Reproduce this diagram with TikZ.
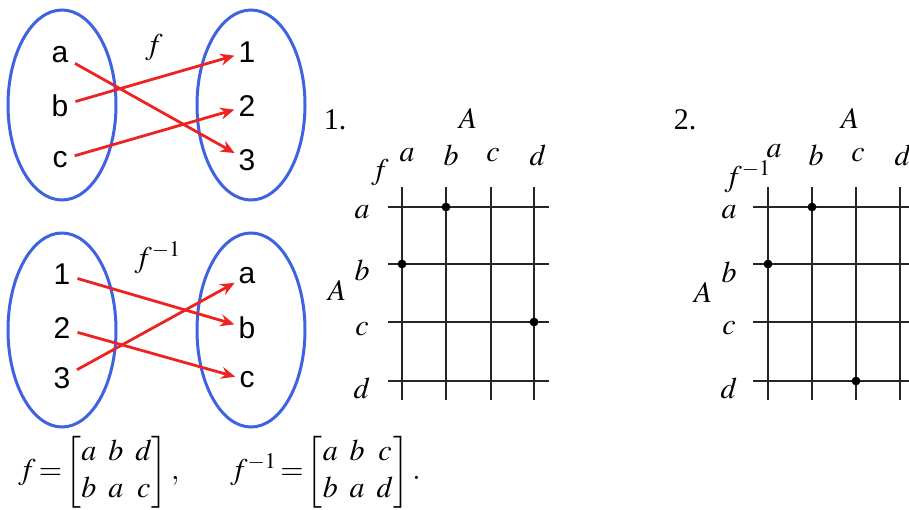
\documentclass[tikz,border=0pt]{standalone}
\usepackage{amsmath}
\usepackage{mathptmx}
\usepackage{fontspec}
\setmainfont{Liberation Serif}
\newfontfamily\arialfont{Liberation Sans}
\usetikzlibrary{arrows.meta,shapes.geometric}
\definecolor{setBlue}{HTML}{3f63e0}
\definecolor{mapRed}{HTML}{ee2222}

\begin{document}
\begin{tikzpicture}[
  x=0.5pt, y=-0.5pt,
  setring/.style={draw=setBlue, line width=1.5pt, ellipse, inner sep=0pt,
                  minimum width=54pt, minimum height=95pt},
  elem/.style={font=\arialfont\fontsize{15}{17}\selectfont, inner sep=0.5pt},
  maparr/.style={-{Stealth[length=7pt,width=6pt]}, draw=mapRed, line width=1.4pt,
                 shorten <=3pt, shorten >=1.5pt},
  lbl/.style={font=\fontsize{15}{18}\selectfont, inner sep=0pt},
  formula/.style={font=\fontsize{15}{18.5}\selectfont, inner sep=0pt, anchor=west},
  gridln/.style={line width=0.7pt, draw=black!85},
  dot/.style={circle, fill=black, inner sep=0pt, minimum size=4.4pt}
]
\clip (0,0) rectangle (909,509);

% ============ TOP LEFT: f ============
\node[setring] (dom) at (62,105) {};
\node[setring] (cod) at (251,105) {};
\node[elem] (ta) at (60,55) {a};
\node[elem] (tb) at (60,106) {b};
\node[elem] (tc) at (60,160) {c};
\node[elem] (t1) at (247,52) {1};
\node[elem] (t2) at (247,106) {2};
\node[elem] (t3) at (247,160) {3};
\node[lbl] (fname) at (154,48) {$f$};

\draw[maparr] (ta) -- (t3);
\draw[maparr] (tb) -- (t1);
\draw[maparr] (tc) -- (t2);

% ============ BOTTOM LEFT: f^{-1} ============
\node[setring, minimum height=97pt] (idom) at (62,330) {};
\node[setring, minimum height=97pt] (icod) at (251,330) {};
\node[elem] (b1) at (62,274) {1};
\node[elem] (b2) at (62,328) {2};
\node[elem] (b3) at (62,378) {3};
\node[elem] (ba) at (247,276) {a};
\node[elem] (bb) at (247,328) {b};
\node[elem] (bc) at (247,380) {c};
\node[lbl] (finvname) at (158,258) {$f^{-1}$};

\draw[maparr] (b1) -- (bb);
\draw[maparr] (b2) -- (bc);
\draw[maparr] (b3) -- (ba);

% ============ FORMULAS ============
\setlength\arraycolsep{3pt}
\node[formula] (fdef) at (18,472)
  {$f\!=\!\begin{bmatrix} a & b & d\\ b & a & c\end{bmatrix},$};
\node[formula] (finvdef) at (230,472)
  {$f^{-1}\!=\!\begin{bmatrix} a & b & c\\ b & a & d\end{bmatrix}.$};

% ============ GRID 1 ============
\node[lbl] (g1num) at (335,120) {1.};
\node[lbl] (g1top) at (468,118) {$A$};
\node[lbl] (g1side) at (337,290) {$A$};
\node[lbl] (g1f) at (380,173) {$f$};
\foreach \l/\x in {a/407,b/451,c/493,d/538}
  \node[lbl] (g1col\l) at (\x,155) {$\l$};
\foreach \l/\y in {a/212,b/270,c/329,d/388}
  \node[lbl] (g1row\l) at (362,\y) {$\l$};
\foreach \x in {402,446,491,534}
  \draw[gridln] (\x,187) -- (\x,400);
\foreach \y in {207,264,322,381}
  \draw[gridln] (388,\y) -- (549,\y);
\node[dot] (g1ba) at (446,207) {};
\node[dot] (g1ab) at (402,264) {};
\node[dot] (g1dc) at (534,322) {};

% ============ GRID 2 ============
\node[lbl] (g2num) at (685,120) {2.};
\node[lbl] (g2top) at (850,118) {$A$};
\node[lbl] (g2side) at (703,292) {$A$};
\node[lbl] (g2f) at (748,177) {$f^{-1}$};
\foreach \l/\x/\y in {a/774/151,b/816/155,c/858/155,d/903/155}
  \node[lbl] (g2col\l) at (\x,\y) {$\l$};
\foreach \l/\y in {a/212,b/272,c/328,d/388}
  \node[lbl] (g2row\l) at (729,\y) {$\l$};
\foreach \x in {768,812,856,900}
  \draw[gridln] (\x,187) -- (\x,400);
\foreach \y in {207,264,322,381}
  \draw[gridln] (753,\y) -- (915,\y);
\node[dot] (g2ba) at (812,207) {};
\node[dot] (g2ab) at (768,264) {};
\node[dot] (g2cd) at (856,381) {};

\end{tikzpicture}
\end{document}
